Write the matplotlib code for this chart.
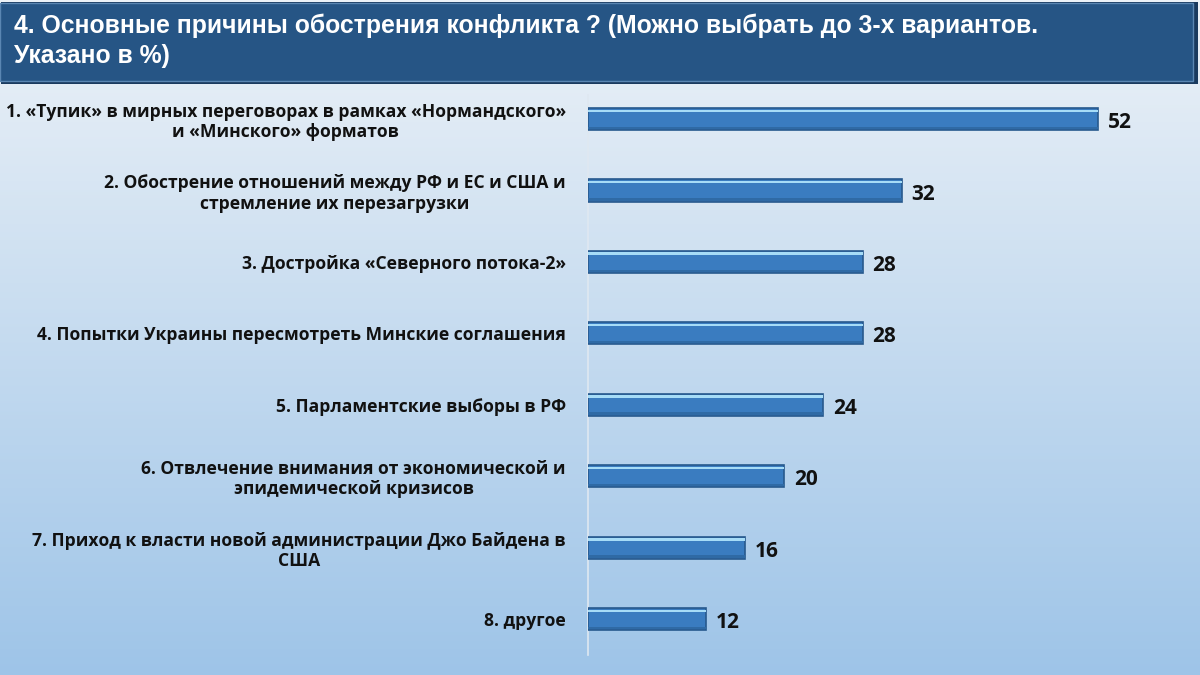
import matplotlib
matplotlib.use("Agg")
import matplotlib.pyplot as plt
import numpy as np
from matplotlib.patches import Rectangle

# data
labels = [
    "1. «Тупик» в мирных переговорах в рамках «Нормандского»\nи «Минского» форматов",
    "2. Обострение отношений между РФ и ЕС и США и\nстремление их перезагрузки",
    "3. Достройка «Северного потока-2»",
    "4. Попытки Украины пересмотреть Минские соглашения",
    "5. Парламентские выборы в РФ",
    "6. Отвлечение внимания от экономической и\nэпидемической кризисов",
    "7. Приход к власти новой администрации Джо Байдена в\nСША",
    "8. другое",
]
values = [52, 32, 28, 28, 24, 20, 16, 12]
title = "4. Основные причины обострения конфликта ? (Можно выбрать до 3-х вариантов.\nУказано в %)"

W, H = 1200, 675
fig = plt.figure(figsize=(12, 6.75), dpi=100)

# background gradient
bg = fig.add_axes([0, 0, 1, 1], zorder=0)
grad = np.linspace(0, 1, 256).reshape(-1, 1)
top = np.array([0.93, 0.95, 0.97])
bot = np.array([0.62, 0.77, 0.91])
img = top * (1 - grad)[..., None] + bot * grad[..., None]
bg.imshow(img, aspect="auto", extent=[0, 1, 0, 1], origin="upper")
bg.set_xlim(0, 1)
bg.set_ylim(0, 1)
bg.axis("off")

# title banner
bg.add_patch(Rectangle((1 / W, 1 - 84 / H), 1197 / W, 82 / H, facecolor="#1a3a5e",
                       edgecolor="none", transform=bg.transAxes, zorder=2))
bg.add_patch(Rectangle((0, 1 - 81 / H), 1193 / W, 78 / H, facecolor="#265585",
                       edgecolor="#5a86b2", linewidth=1, transform=bg.transAxes, zorder=3))
fig.text(14 / W, 1 - 14 / H, title, color="white", fontsize=17.8, fontweight="bold",
         family=["Liberation Sans Narrow", "Liberation Sans", "DejaVu Sans"],
         ha="left", va="top", linespacing=1.3, zorder=5)

# bar axes: x=0 at 588px, 52 at 1098px
px_per_unit = 510 / 52
ax_left = 588 / W
ax_w = 60 * px_per_unit / W
ax_top = 95
ax_bot = 655
ax = fig.add_axes([ax_left, 1 - ax_bot / H, ax_w, (ax_bot - ax_top) / H], zorder=2)
ax.patch.set_alpha(0)
step = 71.43
y0 = (ax_top - 119) / step
y1 = (ax_bot - 119) / step
ax.set_xlim(0, 60)
ax.set_ylim(y1, y0)

pos = np.arange(len(values))
bh = 0.31
ax.barh(pos, values, height=bh, color="#3a7cc0", edgecolor="#27598d", linewidth=1.2, zorder=3)
# glassy look: light line under the top edge, darker strip at the bottom
ax.barh(pos - bh / 2 + 0.04, values, height=0.035, color="#a6dcf7", edgecolor="none", zorder=4)
ax.barh(pos + bh / 2 - 0.03, values, height=0.035, color="#2f6aa5", edgecolor="none", zorder=4)

for p, v in zip(pos, values):
    ax.text(v + 1.0, p + 0.05, str(v), ha="left", va="center", fontsize=15,
            fontweight="bold", color="#111111", family=["Open Sans", "DejaVu Sans"])

ax.set_yticks(pos)
ax.set_yticklabels(labels, fontsize=12.6, fontweight="bold", color="#111111",
                   family=["Open Sans", "DejaVu Sans"], multialignment="center",
                   linespacing=1.15)
ax.tick_params(axis="y", length=0, pad=16)
ax.set_xticks([])
for s in ["top", "right", "bottom"]:
    ax.spines[s].set_visible(False)
ax.spines["left"].set_color("#dfe8f1")
ax.spines["left"].set_linewidth(1.2)

fig.savefig("out.png", dpi=100)
